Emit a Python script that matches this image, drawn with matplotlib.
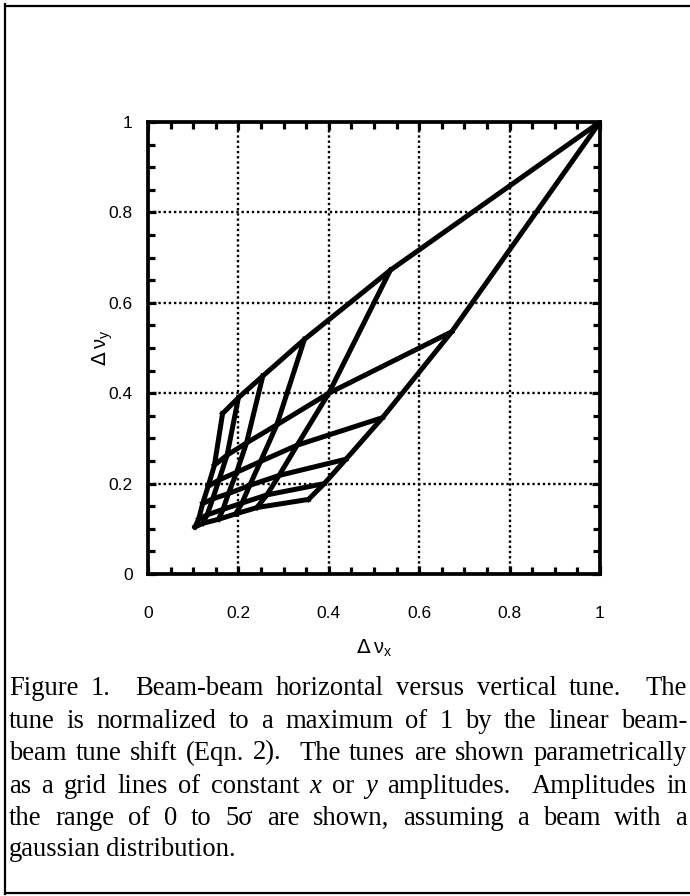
import matplotlib
matplotlib.use("Agg")
import matplotlib.pyplot as plt
import numpy as np
from matplotlib.lines import Line2D

# Normalized beam-beam tune shifts on a grid of amplitudes (0..5 sigma).
# rows: x amplitude, columns: y amplitude
amplitudes = [0, 1, 2, 3, 4, 5]
tune_x = [
    [1.000, 0.672, 0.519, 0.438, 0.390, 0.355],
    [0.536, 0.400, 0.330, 0.290, 0.263, 0.241],
    [0.346, 0.285, 0.249, 0.225, 0.208, 0.194],
    [0.254, 0.218, 0.196, 0.178, 0.166, 0.156],
    [0.200, 0.175, 0.157, 0.143, 0.131, 0.121],
    [0.165, 0.147, 0.133, 0.121, 0.112, 0.104],
]
tune_y = [
    [1.000, 0.536, 0.346, 0.254, 0.200, 0.165],
    [0.672, 0.400, 0.285, 0.218, 0.175, 0.147],
    [0.519, 0.330, 0.249, 0.196, 0.157, 0.133],
    [0.438, 0.290, 0.225, 0.178, 0.143, 0.121],
    [0.390, 0.263, 0.208, 0.166, 0.131, 0.112],
    [0.355, 0.241, 0.194, 0.156, 0.121, 0.104],
]
tick_values = [0, 0.2, 0.4, 0.6, 0.8, 1]
tick_labels = ["0", "0.2", "0.4", "0.6", "0.8", "1"]

# words starting with * are set in italics; double spaces are kept wider
caption_lines = [
    "Figure 1.  Beam-beam horizontal versus vertical tune.  The",
    "tune is normalized to a maximum of 1 by the linear beam-",
    "beam tune shift (Eqn. 2).  The tunes are shown parametrically",
    "as a grid lines of constant *x or *y amplitudes.  Amplitudes in",
    "the range of 0 to 5\u03c3 are shown, assuming a beam with a",
    "gaussian distribution.",
]

W, H = 690, 896
fig = plt.figure(figsize=(W / 100, H / 100), dpi=100)
ax = fig.add_axes([148 / W, 1 - 574 / H, 452 / W, 452 / H])

tx = np.array(tune_x)
ty = np.array(tune_y)
for i in range(len(amplitudes)):
    # constant x amplitude, then constant y amplitude
    ax.plot(tx[i, :], ty[i, :], color="black", lw=3.6, solid_joinstyle="miter")
    ax.plot(tx[:, i], ty[:, i], color="black", lw=3.6, solid_joinstyle="miter")

ax.set_xlim(0, 1)
ax.set_ylim(0, 1)
ax.set_xticks(tick_values)
ax.set_yticks(tick_values)
ax.set_xticklabels(tick_labels)
ax.set_yticklabels(tick_labels)
ax.set_xticks(np.arange(0, 1.0001, 0.05), minor=True)
ax.set_yticks(np.arange(0, 1.0001, 0.05), minor=True)
ax.grid(True, which="major", color="black", lw=1.7, linestyle=(0, (1, 1.2)))

for s in ax.spines.values():
    s.set_linewidth(2.7)
ax.tick_params(which="both", direction="in", top=True, right=True, width=2.3,
               labelfontfamily="Liberation Sans")
ax.tick_params(which="major", length=6)
ax.tick_params(which="minor", length=5)
ax.tick_params(axis="x", which="major", pad=23, labelsize=12.5)
ax.tick_params(axis="y", which="major", pad=11, labelsize=12.5)

ax.set_xlabel(r"$\Delta\,\mathregular{\nu}_{\mathregular{x}}$", fontsize=14.5,
              family="Liberation Sans")
ax.set_ylabel(r"$\Delta\,\mathregular{\nu}_{\mathregular{y}}$", fontsize=14.5,
              family="Liberation Sans")
ax.xaxis.set_label_coords(0.5, -0.142)
ax.yaxis.set_label_coords(-0.072, 0.5)

# border around the figure panel
for xs, ys in [([5, 5], [4, 894]), ([5, 689], [6, 6]), ([5, 689], [893, 893])]:
    fig.add_artist(Line2D([x / W for x in xs], [1 - y / H for y in ys],
                          color="black", lw=1.6))

# justified caption, word by word
renderer = fig.canvas.get_renderer()
left, right = 9, 687
line_y = [688, 721, 753, 786, 818, 849]
for k, line in enumerate(caption_lines):
    tokens = line.split(" ")
    texts, extra = [], []
    for w in tokens:
        if w == "":
            extra[-1] = 1.0
            continue
        italic = w.startswith("*")
        t = fig.text(0, 1 - line_y[k] / H, w.lstrip("*"), fontsize=19.2,
                     family="Liberation Serif", va="center", ha="left",
                     style="italic" if italic else "normal")
        texts.append(t)
        extra.append(0.0)
    widths = [t.get_window_extent(renderer).width for t in texts]
    n_gaps = len(texts) - 1 + sum(extra[:-1])
    if k < len(caption_lines) - 1 and n_gaps > 0:
        gap = (right - left - sum(widths)) / n_gaps
    else:
        gap = 5.0
    x = left
    for t, wd, e in zip(texts, widths, extra):
        t.set_x(x / W)
        x += wd + gap * (1 + e)

fig.savefig("out.png", dpi=100)
